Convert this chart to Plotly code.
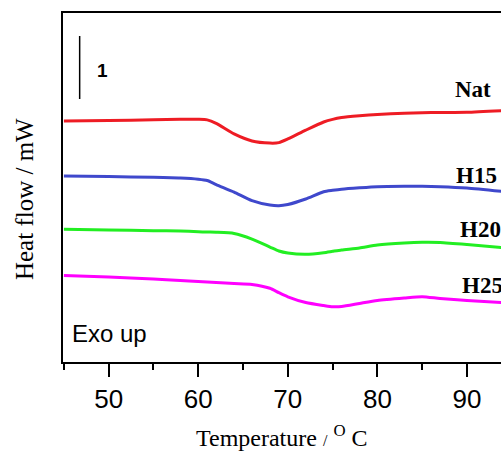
import plotly.graph_objects as go

# Temperature grid (°C)
temperature = [45, 50, 55, 58, 60, 61, 62, 64, 66, 68, 69, 70, 72, 74, 75, 76, 78, 80, 83, 85, 87, 90, 94]

# Heat flow (mW, curves offset as plotted)
nat = [3.825, 3.833, 3.844, 3.852, 3.852, 3.843, 3.789, 3.620, 3.508, 3.475, 3.482, 3.540,
       3.680, 3.810, 3.852, 3.880, 3.908, 3.929, 3.948, 3.957, 3.960, 3.963, 3.989]
h15 = [2.952, 2.944, 2.932, 2.921, 2.902, 2.881, 2.817, 2.698, 2.563, 2.492, 2.481, 2.500,
       2.587, 2.703, 2.725, 2.743, 2.765, 2.783, 2.789, 2.789, 2.783, 2.762, 2.706]
h20 = [2.106, 2.095, 2.084, 2.079, 2.068, 2.063, 2.059, 2.040, 1.952, 1.825, 1.762, 1.730,
       1.710, 1.735, 1.757, 1.778, 1.810, 1.857, 1.889, 1.900, 1.897, 1.865, 1.814]
h25 = [1.373, 1.349, 1.317, 1.294, 1.278, 1.270, 1.262, 1.246, 1.232, 1.170, 1.100, 1.035,
       0.944, 0.897, 0.878, 0.881, 0.929, 0.976, 1.016, 1.037, 1.008, 0.976, 0.944]

series_names = ["Nat", "H15", "H20", "H25"]
series_colors = ["#ee1c24", "#3f48cc", "#22ee22", "#ff00ff"]
label_x = [88.4, 88.5, 89.0, 89.2]
label_y = [4.333, 2.968, 2.111, 1.222]

fig = go.Figure()
for name, vals, col in zip(series_names, [nat, h15, h20, h25], series_colors):
    fig.add_trace(go.Scatter(x=temperature, y=vals, mode="lines", name=name,
                             line=dict(color=col, width=3, shape="spline", smoothing=0.6),
                             showlegend=False))

for name, lx, ly in zip(series_names, label_x, label_y):
    fig.add_annotation(x=lx, y=ly, text="<b>%s</b>" % name, showarrow=False,
                       xanchor="left", yanchor="middle",
                       font=dict(family="Liberation Serif", size=23, color="black"))

# scale bar of 1 mW
fig.add_shape(type="line", x0=46.76, x1=46.76, y0=4.175, y1=5.175,
              line=dict(color="black", width=1.5))
fig.add_annotation(x=49.3, y=4.62, text="<b>1</b>", showarrow=False,
                   font=dict(family="Liberation Sans", size=19, color="black"))

fig.add_annotation(x=0.016, y=0.083, xref="paper", yref="paper", text="Exo up",
                   showarrow=False, xanchor="left", yanchor="middle",
                   font=dict(family="Liberation Sans", size=24, color="black"))

# axis titles
fig.add_annotation(x=0.50, y=-0.212, xref="paper", yref="paper",
                   text="Temperature <span style='font-size:16px'>/</span> <sup>O</sup> C",
                   showarrow=False, xanchor="center", yanchor="middle",
                   font=dict(family="Liberation Serif", size=24, color="black"))
fig.add_annotation(x=-0.089, y=0.467, xref="paper", yref="paper",
                   text="Heat flow / mW", textangle=-90,
                   showarrow=False, xanchor="center", yanchor="middle",
                   font=dict(family="Liberation Serif", size=25, color="black"))

fig.update_layout(
    width=501, height=451,
    margin=dict(l=63, r=0, t=13, b=89),
    paper_bgcolor="white", plot_bgcolor="white",
    xaxis=dict(range=[44.9, 93.8], dtick=10, tick0=50, ticks="outside", ticklen=13,
               tickwidth=2, tickcolor="black", showline=True, linecolor="black",
               linewidth=2, mirror=True, showgrid=False, zeroline=False,
               tickfont=dict(family="Liberation Sans", size=26, color="black"),
               minor=dict(dtick=5, tick0=45, ticks="outside", ticklen=6, tickwidth=2,
                          tickcolor="black")),
    yaxis=dict(range=[0, 5.54], showticklabels=False, ticks="", showline=True,
               linecolor="black", linewidth=2, showgrid=False, zeroline=False),
)

fig.write_html("out.html", config={"displayModeBar": False},
               post_script="document.body.style.margin='0px';document.body.style.overflow='hidden';")
